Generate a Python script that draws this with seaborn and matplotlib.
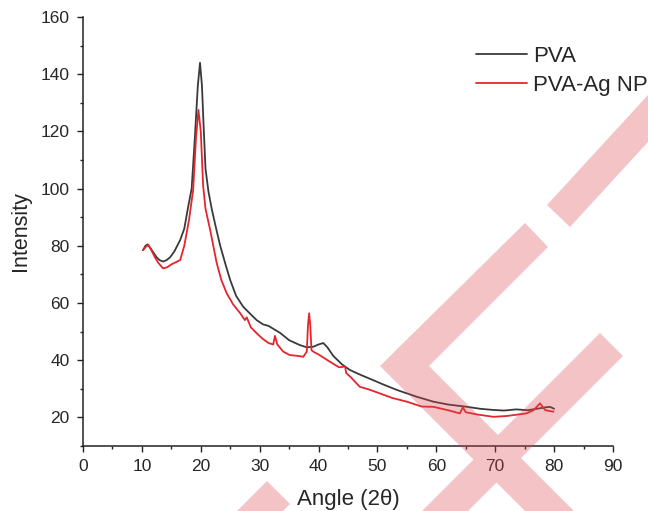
import numpy as np
import pandas as pd
import seaborn as sns
import matplotlib.pyplot as plt
from matplotlib.patches import PathPatch
from matplotlib.path import Path
from matplotlib.ticker import MultipleLocator

# ================================
# Data
# ================================

pva_angle = [10.2, 10.6, 11.0, 11.5, 12.0, 12.5, 13.0, 13.6, 14.2, 14.8,
             15.5, 16.5, 17.2, 17.8, 18.45, 19.0, 19.5, 19.87, 20.2, 20.5,
             20.8, 21.3, 21.85, 22.5, 23.3, 24.2, 25.0, 26.0, 27.2, 28.5,
             29.5, 30.6, 31.5, 32.3, 33.5, 35.0, 36.8, 38.0, 39.1, 40.0,
             40.8, 41.5, 42.5, 44.0, 45.3, 47.0, 49.3, 51.0, 53.3, 56.7,
             59.5, 62.0, 65.2, 67.5, 69.7, 71.5, 73.6, 75.5, 77.0, 78.5,
             79.3, 80.0]
pva_intensity = [78.5, 80.0, 80.5, 79.0, 77.5, 76.0, 75.0, 74.5, 75.0, 76.0,
                 78.0, 82.0, 86.0, 93.0, 100.0, 118.0, 136.0, 144.0, 136.0, 121.0,
                 107.0, 99.0, 93.0, 87.0, 80.0, 73.5, 68.0, 62.5, 58.7, 56.0,
                 54.0, 52.5, 52.0, 51.0, 49.5, 47.0, 45.3, 44.5, 44.7, 45.5,
                 46.0, 44.5, 41.5, 38.5, 36.6, 35.0, 33.0, 31.5, 29.6, 27.2,
                 25.5, 24.5, 23.7, 23.0, 22.6, 22.4, 22.8, 22.5, 23.0, 23.5,
                 23.7, 23.0]

ag_angle = [10.2, 10.6, 11.1, 11.6, 12.2, 12.8, 13.6, 14.3, 15.0, 16.0,
            16.5, 17.2, 18.0, 18.7, 19.2, 19.6, 20.0, 20.4, 20.8, 21.6,
            22.7, 23.5, 24.4, 25.5, 26.7, 27.5, 27.8, 28.5, 29.5, 30.5,
            31.5, 32.3, 32.6, 33.0, 34.0, 35.1, 36.5, 37.4, 38.0, 38.2,
            38.4, 38.6, 38.8, 39.1, 40.0, 41.9, 43.5, 44.5, 44.7, 45.5,
            47.0, 48.5, 50.4, 52.5, 55.0, 57.5, 59.5, 62.0, 64.0, 64.5,
            65.0, 67.0, 69.7, 72.0, 75.3, 76.5, 77.6, 78.5, 79.9]
ag_intensity = [78.5, 79.5, 80.3, 78.5, 76.0, 74.0, 72.1, 72.5, 73.5, 74.5,
                75.0, 80.0, 89.0, 99.5, 118.0, 127.5, 120.0, 101.0, 93.0, 85.5,
                74.0, 68.0, 63.4, 59.5, 56.4, 54.0, 55.0, 51.5, 49.4, 47.5,
                46.0, 45.5, 48.5, 45.5, 43.0, 41.8, 41.5, 41.2, 43.0, 52.0,
                56.4, 52.0, 43.5, 43.0, 42.0, 39.5, 37.5, 37.8, 35.5, 34.0,
                30.7, 29.8, 28.4, 26.8, 25.5, 23.8, 23.7, 22.5, 21.4, 23.5,
                21.8, 21.0, 20.2, 20.5, 21.4, 22.5, 24.9, 22.5, 22.0]

df_pva = pd.DataFrame({"Angle": pva_angle, "Intensity": pva_intensity})
df_ag = pd.DataFrame({"Angle": ag_angle, "Intensity": ag_intensity})

# ================================
# Plot
# ================================

sns.set_style("ticks")
plt.rcParams['font.family'] = ['Liberation Sans', 'DejaVu Sans']

fig = plt.figure(figsize=(6.48, 5.11), dpi=100)
ax = fig.add_axes([83 / 648, 1 - 446 / 511, 530 / 648, 429 / 511])

sns.lineplot(data=df_pva, x="Angle", y="Intensity", color="#3a3a3a",
             linewidth=1.3, label="PVA", ax=ax)
sns.lineplot(data=df_ag, x="Angle", y="Intensity", color="#e6252b",
             linewidth=1.3, label="PVA-Ag NP", ax=ax)

ax.set_xlim(0, 90)
ax.set_ylim(10, 160)
ax.xaxis.set_major_locator(MultipleLocator(10))
ax.xaxis.set_minor_locator(MultipleLocator(5))
ax.set_yticks([20, 40, 60, 80, 100, 120, 140, 160])
ax.yaxis.set_minor_locator(MultipleLocator(10))

ax.tick_params(which="major", direction="out", length=4.5, width=1,
               labelsize=12.5, pad=5, color="#222222")
ax.tick_params(which="minor", direction="out", length=2.5, width=1,
               color="#222222")

sns.despine(ax=ax)
for side in ["left", "bottom"]:
    ax.spines[side].set_linewidth(1.1)
    ax.spines[side].set_color("#222222")

ax.set_xlabel("Angle (2θ)", fontsize=16)
ax.set_ylabel("Intensity", fontsize=15.5)
ax.xaxis.set_label_coords(0.5, -0.1)
ax.yaxis.set_label_coords(-0.098, 0.5)

ax.legend(loc="upper left", bbox_to_anchor=(0.734, 1 - 46 / 511),
          bbox_transform=fig.transFigure, frameon=False, fontsize=16,
          handlelength=2.3, handletextpad=0.3, labelspacing=0.35,
          borderpad=0, borderaxespad=0)

# watermark stripes laid over the figure, filled as one shape
def px(points):
    pts = [(x / 648, 1 - y / 511) for x, y in points]
    return Path(pts + [pts[0]], closed=True)

stripes = [
    [(525, 223), (548, 247), (429, 366), (574, 511), (525, 511), (380, 366)],
    [(600, 333), (623, 356), (468, 511), (422, 511)],
    [(547, 205), (570, 227), (648, 142), (648, 95)],
    [(267, 481), (290, 504), (283, 511), (237, 511)],
]
mark = Path.make_compound_path(*[px(s) for s in stripes])
fig.patches.append(PathPatch(mark, transform=fig.transFigure,
                             facecolor="#dc4650", alpha=0.32,
                             edgecolor="none", zorder=10))

fig.savefig("out.png", dpi=100)
